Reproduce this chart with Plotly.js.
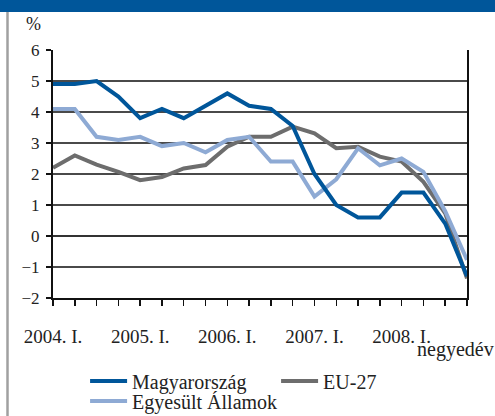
<!DOCTYPE html>
<html>
<head>
<meta charset="utf-8">
<script src="https://cdn.plot.ly/plotly-3.0.1.min.js"></script>
<style>
html,body{margin:0;padding:0;background:#fff;}
#chart{width:495px;height:416px;}
</style>
</head>
<body>
<div id="chart"></div>
<script>
var quarters = [
  "2004. I.","2004. II.","2004. III.","2004. IV.",
  "2005. I.","2005. II.","2005. III.","2005. IV.",
  "2006. I.","2006. II.","2006. III.","2006. IV.",
  "2007. I.","2007. II.","2007. III.","2007. IV.",
  "2008. I.","2008. II.","2008. III.","2008. IV."
];
var tickLabels = ["2004. I.","","","","2005. I.","","","","2006. I.","","","","2007. I.","","","","2008. I.","","",""];
var hungary = [4.9,4.9,5.0,4.5,3.8,4.1,3.8,4.2,4.6,4.2,4.1,3.55,2.0,1.0,0.6,0.6,1.4,1.4,0.4,-1.3];
var eu27    = [2.2,2.6,2.3,2.07,1.8,1.9,2.18,2.29,2.88,3.2,3.2,3.53,3.31,2.83,2.88,2.56,2.4,1.75,0.73,-1.37];
var usa     = [4.1,4.1,3.2,3.1,3.2,2.9,3.0,2.7,3.1,3.2,2.4,2.4,1.27,1.83,2.83,2.28,2.5,2.07,0.8,-0.77];

var serif = "Liberation Serif, DejaVu Serif, serif";
var traces = [
  {x: quarters, y: eu27, name: "EU-27", type: "scatter", mode: "lines",
   line: {color: "#6d6d6d", width: 4}, legend: "legend"},
  {x: quarters, y: usa, name: "Egyesült Államok", type: "scatter", mode: "lines",
   line: {color: "#8eaad4", width: 4}, legend: "legend2"},
  {x: quarters, y: hungary, name: "Magyarország", type: "scatter", mode: "lines",
   line: {color: "#00569a", width: 4}, legend: "legend", legendrank: 1}
];

var legFont = {family: serif, size: 20, color: "#222"};
var layout = {
  width: 495, height: 416,
  margin: {l: 53, r: 28, t: 50, b: 118, autoexpand: false},
  paper_bgcolor: "#fff", plot_bgcolor: "#fff",
  font: {family: serif, size: 18, color: "#222"},
  showlegend: true,
  legend: {orientation: "h", x: 0.0775, xanchor: "left", y: -0.3347, yanchor: "middle",
           entrywidth: 139, entrywidthmode: "pixels", traceorder: "normal",
           font: legFont, itemwidth: 37, bgcolor: "rgba(0,0,0,0)"},
  legend2: {orientation: "h", x: 0.0775, xanchor: "left", y: -0.415, yanchor: "middle",
           font: legFont, itemwidth: 37, bgcolor: "rgba(0,0,0,0)"},
  xaxis: {type: "category", range: [0, 19], tickvals: quarters, ticktext: tickLabels,
          showgrid: false, zeroline: false, showline: true, linecolor: "#111", linewidth: 2,
          ticks: "outside", ticklen: 6, tickwidth: 1.5, tickcolor: "#111",
          ticklabelstandoff: 14, tickangle: 0, tickfont: {family: serif, size: 19, color: "#222"}},
  yaxis: {range: [-2, 6], dtick: 1, tick0: 0, showgrid: true, gridcolor: "#4a4a4a", gridwidth: 1.5,
          zeroline: true, zerolinecolor: "#333", zerolinewidth: 1.5,
          showline: true, linecolor: "#111", linewidth: 2, mirror: true,
          ticks: "outside", ticklen: 5, tickwidth: 1.5, tickcolor: "#111",
          tickfont: {family: serif, size: 17, color: "#222"}, ticklabelstandoff: 3},
  shapes: [
    {type: "rect", xref: "paper", yref: "paper", x0: -0.14, x1: 1.08, y0: 1.153, y1: 1.21,
     fillcolor: "#00569a", line: {width: 0}, layer: "above"},
    {type: "line", xref: "paper", yref: "paper", x0: -0.1099, x1: -0.1099, y0: 1.153, y1: -0.48,
     line: {color: "#a0a0a0", width: 2.5}}
  ],
  annotations: [
    {text: "%", xref: "paper", yref: "paper", x: (33-53)/414, y: (298-24)/248,
     showarrow: false, xanchor: "center", yanchor: "middle", font: {family: serif, size: 18, color: "#222"}},
    {text: "negyedév", xref: "paper", yref: "paper", x: (455-53)/414, y: (298-349)/248,
     showarrow: false, xanchor: "center", yanchor: "middle", font: {family: serif, size: 20, color: "#222"}}
  ]
};

Plotly.newPlot("chart", traces, layout, {displayModeBar: false, staticPlot: true});
</script>
</body>
</html>
